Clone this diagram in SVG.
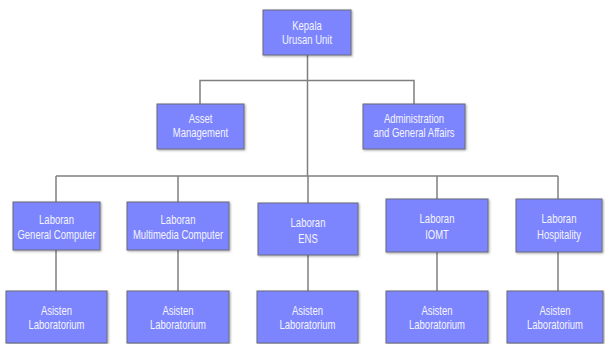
<svg xmlns="http://www.w3.org/2000/svg" width="605" height="344" viewBox="0 0 605 344">
<defs>
<filter id="sh" x="-10%" y="-10%" width="125%" height="130%">
<feDropShadow dx="1" dy="1" stdDeviation="1" flood-color="#000" flood-opacity="0.35"/>
</filter>
</defs>
<style>
.box{fill:#7b85fd;stroke:#6a6a7a;stroke-width:1;filter:url(#sh)}
.t{font-family:"Liberation Sans",Arial,sans-serif;font-size:12.5px;fill:#f4f4ff;text-anchor:middle}
.c{stroke:#7f7f7f;stroke-width:1.5;fill:none}
</style>
<rect width="605" height="344" fill="#fff"/>
<g id="connectors">
<line class="c" x1="307.5" y1="55" x2="307.5" y2="176" stroke-width="2"/>
<polyline class="c" points="200,104 200,80.5 414,80.5 414,104"/>
<line class="c" x1="56" y1="176" x2="558" y2="176"/>
<line class="c" x1="56" y1="176" x2="56" y2="202"/>
<line class="c" x1="178" y1="176" x2="178" y2="202"/>
<line class="c" x1="308" y1="176" x2="308" y2="203"/>
<line class="c" x1="437" y1="176" x2="437" y2="199"/>
<line class="c" x1="558" y1="176" x2="558" y2="199"/>
<line class="c" x1="56" y1="250" x2="56" y2="291"/>
<line class="c" x1="178" y1="250" x2="178" y2="291"/>
<line class="c" x1="308" y1="255" x2="308" y2="291"/>
<line class="c" x1="437" y1="252" x2="437" y2="291"/>
<line class="c" x1="558" y1="252" x2="558" y2="291"/>
</g>
<g id="kepala"><rect class="box" x="263" y="10" width="88" height="45"/><text class="t" transform="translate(307,30) scale(0.76,1)">Kepala</text><text class="t" transform="translate(307,44) scale(0.76,1)">Urusan Unit</text></g>
<g id="asset"><rect class="box" x="157" y="104" width="87" height="45"/><text class="t" transform="translate(200.5,123) scale(0.76,1)">Asset</text><text class="t" transform="translate(200.5,137) scale(0.76,1)">Management</text></g>
<g id="admin"><rect class="box" x="363" y="104" width="102" height="45"/><text class="t" transform="translate(414,123) scale(0.76,1)">Administration</text><text class="t" transform="translate(414,137) scale(0.76,1)">and General Affairs</text></g>
<g id="lab-gc"><rect class="box" x="13" y="202" width="87" height="48"/><text class="t" transform="translate(56.5,224) scale(0.76,1)">Laboran</text><text class="t" transform="translate(56.5,239) scale(0.76,1)">General Computer</text></g>
<g id="lab-mc"><rect class="box" x="127" y="202" width="102" height="48"/><text class="t" transform="translate(178,224) scale(0.76,1)">Laboran</text><text class="t" transform="translate(178,239) scale(0.76,1)">Multimedia Computer</text></g>
<g id="lab-ens"><rect class="box" x="258" y="203" width="100" height="52"/><text class="t" transform="translate(308,227) scale(0.76,1)">Laboran</text><text class="t" transform="translate(308,243) scale(0.76,1)">ENS</text></g>
<g id="lab-iomt"><rect class="box" x="386" y="199" width="102" height="53"/><text class="t" transform="translate(437,223) scale(0.76,1)">Laboran</text><text class="t" transform="translate(437,239) scale(0.76,1)">IOMT</text></g>
<g id="lab-hosp"><rect class="box" x="516" y="199" width="86" height="53"/><text class="t" transform="translate(559,223) scale(0.76,1)">Laboran</text><text class="t" transform="translate(559,239) scale(0.76,1)">Hospitality</text></g>
<g id="asisten-1"><rect class="box" x="6" y="291" width="101" height="52"/><text class="t" transform="translate(56.5,315) scale(0.76,1)">Asisten</text><text class="t" transform="translate(56.5,329) scale(0.76,1)">Laboratorium</text></g>
<g id="asisten-2"><rect class="box" x="127" y="291" width="102" height="52"/><text class="t" transform="translate(178,315) scale(0.76,1)">Asisten</text><text class="t" transform="translate(178,329) scale(0.76,1)">Laboratorium</text></g>
<g id="asisten-3"><rect class="box" x="257" y="291" width="101" height="52"/><text class="t" transform="translate(307.5,315) scale(0.76,1)">Asisten</text><text class="t" transform="translate(307.5,329) scale(0.76,1)">Laboratorium</text></g>
<g id="asisten-4"><rect class="box" x="386" y="291" width="102" height="52"/><text class="t" transform="translate(437,315) scale(0.76,1)">Asisten</text><text class="t" transform="translate(437,329) scale(0.76,1)">Laboratorium</text></g>
<g id="asisten-5"><rect class="box" x="507" y="291" width="96" height="52"/><text class="t" transform="translate(555,315) scale(0.76,1)">Asisten</text><text class="t" transform="translate(555,329) scale(0.76,1)">Laboratorium</text></g>
</svg>
